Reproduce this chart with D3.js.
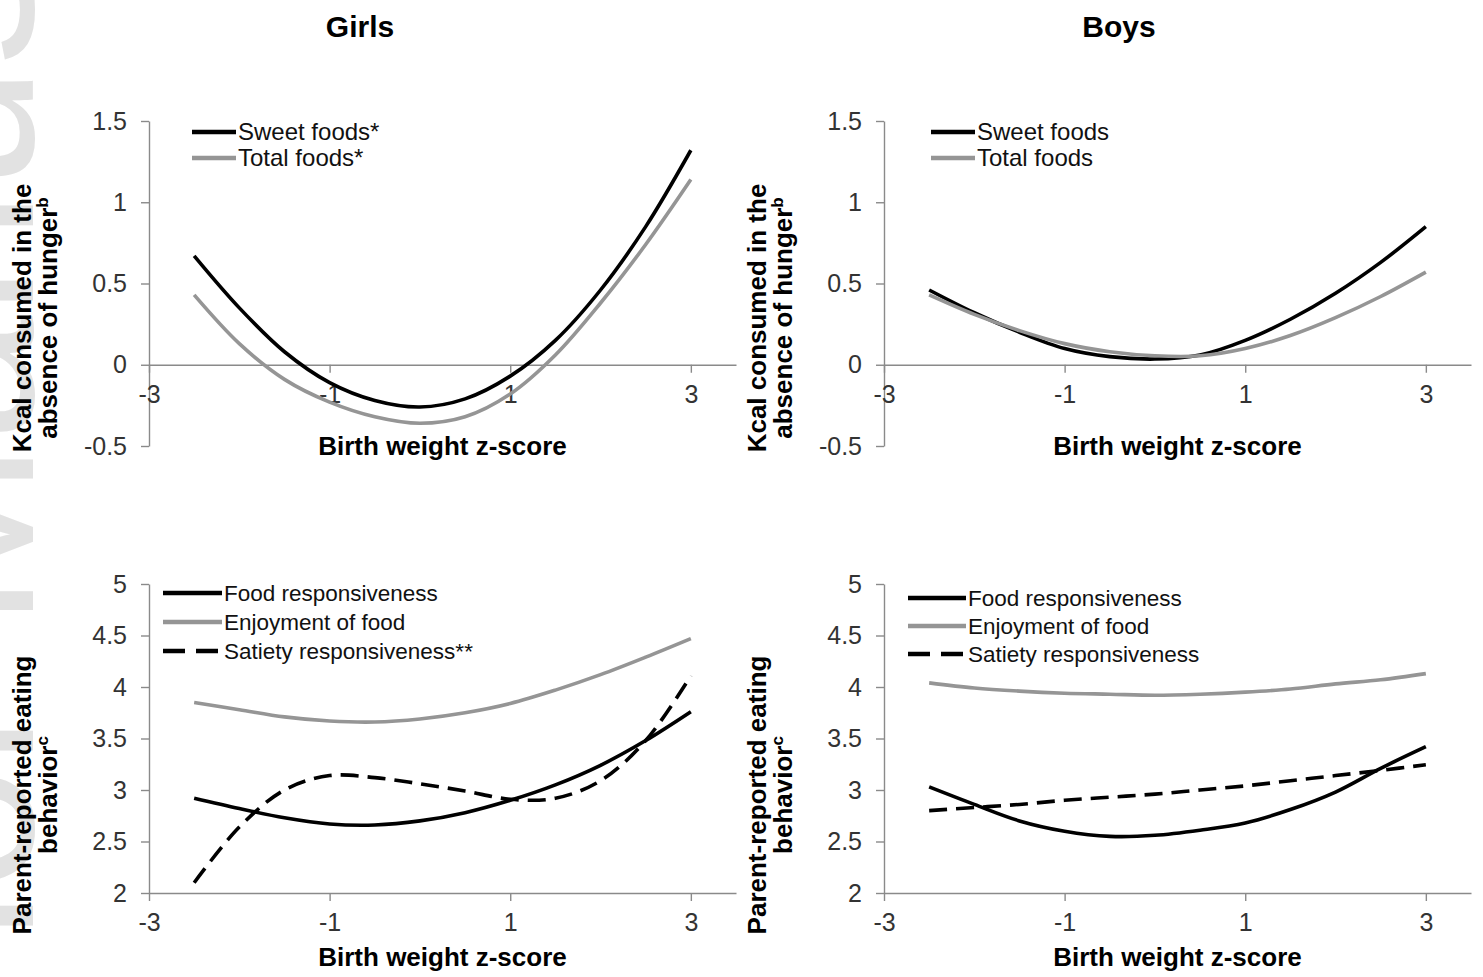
<!DOCTYPE html>
<html>
<head>
<meta charset="utf-8">
<script src="https://cdn.jsdelivr.net/npm/d3@7"></script>
<style>
  body { margin: 0; background: #fff; }
  svg text { font-family: "Liberation Sans", Arial, sans-serif; }
</style>
</head>
<body>
<svg id="chart" width="1483" height="977"></svg>
<script>
/* -------------------------------------------------------------------------- */
// values (birth weight z-score on x)
let birthZ = [-2.5, -2, -1.5, -1, -0.5, 0, 0.5, 1, 1.5, 2, 2.5, 3];
let xTicks = [-3, -1, 1, 3];
let kcalTicks = [-0.5, 0, 0.5, 1, 1.5];
let behavTicks = [2, 2.5, 3, 3.5, 4, 4.5, 5];

// kcal consumed in the absence of hunger
let girlsSweet = [0.67, 0.35, 0.08, -0.11, -0.22, -0.26, -0.21, -0.07, 0.15, 0.46, 0.85, 1.32];
let girlsTotal = [0.43, 0.13, -0.09, -0.23, -0.32, -0.36, -0.32, -0.18, 0.06, 0.38, 0.74, 1.14];
let boysSweet  = [0.46, 0.32, 0.20, 0.10, 0.05, 0.035, 0.06, 0.15, 0.28, 0.44, 0.63, 0.85];
let boysTotal  = [0.43, 0.31, 0.21, 0.13, 0.08, 0.055, 0.055, 0.10, 0.18, 0.29, 0.42, 0.57];

// parent-reported eating behavior
let girlsFoodResp  = [2.92, 2.82, 2.73, 2.67, 2.66, 2.70, 2.78, 2.90, 3.05, 3.24, 3.48, 3.76];
let girlsEnjoy     = [3.85, 3.78, 3.71, 3.67, 3.66, 3.69, 3.75, 3.84, 3.97, 4.12, 4.29, 4.47];
let girlsSatiety   = [2.10, 2.64, 3.00, 3.14, 3.12, 3.06, 2.99, 2.91, 2.92, 3.09, 3.48, 4.11];
let boysFoodResp   = [3.03, 2.86, 2.70, 2.60, 2.55, 2.56, 2.61, 2.68, 2.81, 2.98, 3.21, 3.42];
let boysEnjoy      = [4.04, 3.99, 3.96, 3.94, 3.93, 3.92, 3.93, 3.95, 3.98, 4.03, 4.07, 4.13];
let boysSatiety    = [2.80, 2.83, 2.86, 2.90, 2.93, 2.96, 3.00, 3.04, 3.09, 3.14, 3.19, 3.245];

/* -------------------------------------------------------------------------- */
let svg = d3.select('#chart');
let BLACK = '#000', GREY = '#959595', AXIS = '#8a8a8a';

let kcalLabel = ['Kcal consumed in the', 'absence of hunger', 'b'];
let behavLabel = ['Parent-reported eating', 'behavior', 'c'];

let panels = [
  { left: 149, top: 121, bottom: 446, ydom: [-0.5, 1.5], xAt: 0, yticks: kcalTicks,
    ylab: kcalLabel, cy: 318, lfont: 24,
    legend: { x1: 192, x2: 236, y0: 132, dy: 26 },
    series: [
      { name: 'Sweet foods*', vals: girlsSweet, color: BLACK },
      { name: 'Total foods*', vals: girlsTotal, color: GREY } ] },
  { left: 884, top: 121, bottom: 446, ydom: [-0.5, 1.5], xAt: 0, yticks: kcalTicks,
    ylab: kcalLabel, cy: 318, lfont: 24,
    legend: { x1: 931, x2: 975, y0: 132, dy: 26 },
    series: [
      { name: 'Sweet foods', vals: boysSweet, color: BLACK },
      { name: 'Total foods', vals: boysTotal, color: GREY } ] },
  { left: 149, top: 584, bottom: 893, ydom: [2, 5], xAt: 2, yticks: behavTicks,
    ylab: behavLabel, cy: 795, lfont: 22.5,
    legend: { x1: 163, x2: 222, y0: 593, dy: 29 },
    series: [
      { name: 'Food responsiveness', vals: girlsFoodResp, color: BLACK },
      { name: 'Enjoyment of food', vals: girlsEnjoy, color: GREY },
      { name: 'Satiety responsiveness**', vals: girlsSatiety, color: BLACK, dash: true } ] },
  { left: 884, top: 584, bottom: 893, ydom: [2, 5], xAt: 2, yticks: behavTicks,
    ylab: behavLabel, cy: 795, lfont: 22.5,
    legend: { x1: 908, x2: 966, y0: 598, dy: 28 },
    series: [
      { name: 'Food responsiveness', vals: boysFoodResp, color: BLACK },
      { name: 'Enjoyment of food', vals: boysEnjoy, color: GREY },
      { name: 'Satiety responsiveness', vals: boysSatiety, color: BLACK, dash: true } ] }
];

/* -------------------------------------------------------------------------- */
// faint watermark on the left margin (cut by the page edge, as in the source)
svg.append('text')
  .attr('transform', 'translate(33,1354) rotate(-90)')
  .attr('font-size', 225)
  .attr('fill', '#e2e2e2')
  .text('Author Manuscript');

/* -------------------------------------------------------------------------- */
function styleAxis(g) {
  g.attr('font-size', null).attr('font-family', null);
  g.select('.domain').attr('stroke', AXIS).attr('stroke-width', 1.4);
  g.selectAll('.tick line').attr('stroke', AXIS).attr('stroke-width', 1.4);
  g.selectAll('.tick text').attr('fill', '#333').attr('font-size', 25);
}

function drawPanel(p) {

  let x = d3.scaleLinear().domain([-3, 3.5]).range([p.left, p.left + 587]);
  let y = d3.scaleLinear().domain(p.ydom).range([p.bottom, p.top]);
  let g = svg.append('g');

  g.append('g')
    .attr('transform', `translate(${p.left},0)`)
    .call(d3.axisLeft(y).tickValues(p.yticks).tickSize(8).tickSizeOuter(0)
            .tickPadding(14).tickFormat(d => String(d)))
    .call(styleAxis);

  g.append('g')
    .attr('transform', `translate(0,${y(p.xAt)})`)
    .call(d3.axisBottom(x).tickValues(xTicks).tickSize(8).tickSizeOuter(0)
            .tickPadding(12).tickFormat(d => String(d)))
    .call(styleAxis);

  let line = d3.line()
    .x((d, i) => x(birthZ[i]))
    .y(d => y(d))
    .curve(d3.curveCatmullRom.alpha(0.5));

  p.series.forEach(function (s) {
    g.append('path')
      .attr('d', line(s.vals))
      .attr('fill', 'none')
      .attr('stroke', s.color)
      .attr('stroke-width', 3.6)
      .attr('stroke-dasharray', s.dash ? '18,9' : null);
  });

  // legend
  let lg = p.legend;
  p.series.forEach(function (s, i) {
    let ly = lg.y0 + i * lg.dy;
    g.append('line')
      .attr('x1', lg.x1).attr('x2', lg.x2)
      .attr('y1', ly).attr('y2', ly)
      .attr('stroke', s.color)
      .attr('stroke-width', 4.5)
      .attr('stroke-dasharray', s.dash ? '22,11' : null);
    g.append('text')
      .attr('x', lg.x2 + 2)
      .attr('y', ly + p.lfont * 0.34)
      .attr('font-size', p.lfont)
      .attr('fill', '#111')
      .text(s.name);
  });

  // y axis title (two lines, rotated)
  let yl = g.append('g')
    .attr('font-size', 26)
    .attr('font-weight', 'bold')
    .attr('text-anchor', 'middle');
  yl.append('text')
    .attr('transform', `translate(${p.left - 118},${p.cy}) rotate(-90)`)
    .text(p.ylab[0]);
  let t2 = yl.append('text')
    .attr('transform', `translate(${p.left - 92},${p.cy}) rotate(-90)`);
  t2.append('tspan').text(p.ylab[1]);
  t2.append('tspan').attr('font-size', 17).attr('baseline-shift', 'super').text(p.ylab[2]);

  // x axis title
  g.append('text')
    .attr('x', p.left + 293.5)
    .attr('y', p.bottom + (p.xAt === 0 ? 9 : 73))
    .attr('text-anchor', 'middle')
    .attr('font-size', 26)
    .attr('font-weight', 'bold')
    .text('Birth weight z-score');
}

panels.forEach(drawPanel);

/* -------------------------------------------------------------------------- */
svg.append('text').attr('x', 360).attr('y', 37)
  .attr('text-anchor', 'middle').attr('font-size', 30).attr('font-weight', 'bold')
  .text('Girls');
svg.append('text').attr('x', 1119).attr('y', 37)
  .attr('text-anchor', 'middle').attr('font-size', 30).attr('font-weight', 'bold')
  .text('Boys');
</script>
</body>
</html>
